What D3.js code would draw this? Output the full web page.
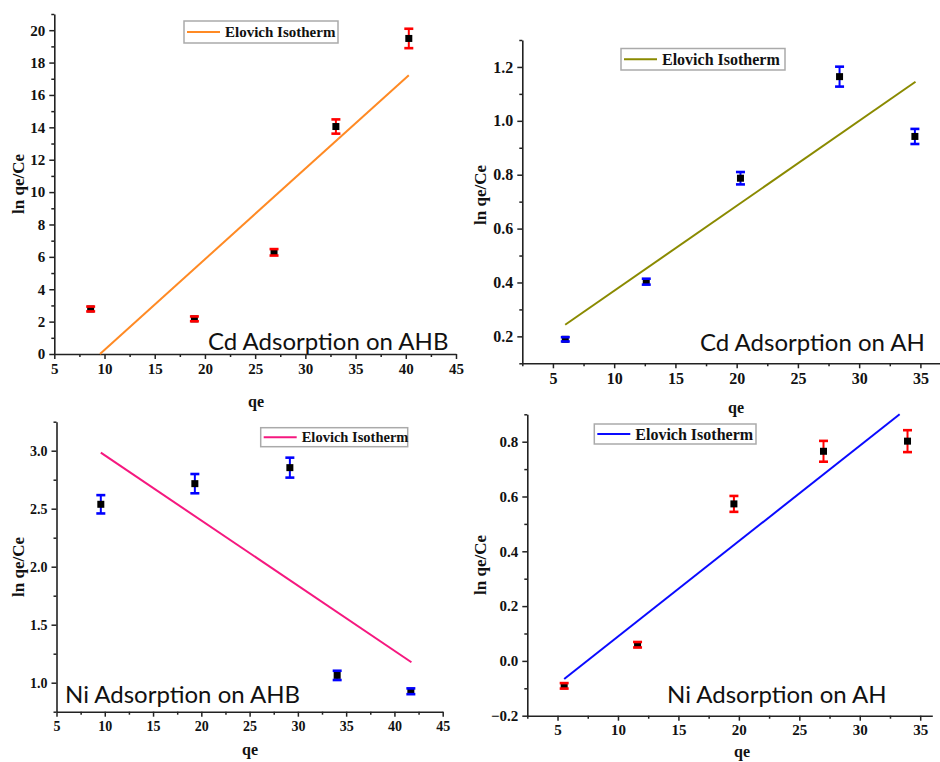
<!DOCTYPE html>
<html>
<head>
<meta charset="utf-8">
<script src="https://cdn.jsdelivr.net/npm/d3@7"></script>
<style>
  html, body { margin: 0; padding: 0; background: #fff; }
  svg { display: block; }
  .tick text { font-family: 'Liberation Serif', 'Times New Roman', serif; font-weight: bold; }
</style>
</head>
<body>
<svg id="chart" width="940" height="762"></svg>
<script>
// Cd on AHB
const cdAhbQe  = [8.62, 18.95, 26.88, 33.04, 40.3];
const cdAhbLn  = [2.78, 2.17, 6.28, 14.05, 19.49];
const cdAhbErr = [0.15, 0.15, 0.2, 0.44, 0.6];
const cdAhbFitQe = [9.55, 40.3];
const cdAhbFitLn = [0, 17.22];

// Cd on AH
const cdAhQe  = [6.01, 12.62, 20.31, 28.4, 34.55];
const cdAhLn  = [0.189, 0.403, 0.787, 1.164, 0.942];
const cdAhErr = [0.008, 0.011, 0.023, 0.037, 0.028];
const cdAhFitQe = [6.0, 34.6];
const cdAhFitLn = [0.243, 1.145];

// Ni on AHB
const niAhbQe  = [9.59, 19.33, 29.17, 34.07, 41.7];
const niAhbLn  = [2.538, 2.716, 2.854, 1.063, 0.926];
const niAhbErr = [0.079, 0.083, 0.086, 0.04, 0.025];
const niAhbFitQe = [9.59, 41.76];
const niAhbFitLn = [2.983, 1.176];

// Ni on AH
const niAhQe  = [5.55, 11.62, 19.59, 27.0, 33.95];
const niAhLn  = [-0.091, 0.059, 0.573, 0.765, 0.802];
const niAhErr = [0.01, 0.01, 0.029, 0.038, 0.04];
const niAhFitQe = [5.55, 33.3];
const niAhFitLn = [-0.066, 0.9];

const xTicks = [5, 10, 15, 20, 25, 30, 35, 40, 45];
const xTicksAH = [5, 10, 15, 20, 25, 30, 35];
const yTicksCdAhb = [0, 2, 4, 6, 8, 10, 12, 14, 16, 18, 20];
const yTicksCdAh = [0.2, 0.4, 0.6, 0.8, 1.0, 1.2];
const yTicksNiAhb = [1.0, 1.5, 2.0, 2.5, 3.0];
const yTicksNiAh = [-0.2, 0.0, 0.2, 0.4, 0.6, 0.8];

const legendLabel = "Elovich Isotherm";
const xTitle = "qe";
const yTitle = "ln qe/Ce";

const panels = [
  {
    title: "Cd Adsorption on AHB", qe: cdAhbQe, ln: cdAhbLn, err: cdAhbErr,
    fitQe: cdAhbFitQe, fitLn: cdAhbFitLn,
    xDomain: [5, 45], xRange: [54.3, 456], yDomain: [0, 21], yRange: [354, 14],
    xTicks: xTicks, xMinor: 2.5, yTicks: yTicksCdAhb, yMinor: 1, yFmt: d3.format("d"),
    lineColor: "#ff8a24", errColor: "#ff0000",
    legend: { x: 184, y: 21, w: 154, h: 22, fs: 15 },
    titlePos: [208, 350], xLabelPos: [256, 401], yLabelPos: [18, 184], tickFs: 15
  },
  {
    title: "Cd Adsorption on AH", qe: cdAhQe, ln: cdAhLn, err: cdAhErr,
    fitQe: cdAhFitQe, fitLn: cdAhFitLn,
    xDomain: [2.5, 37], xRange: [522.3, 944.9], yDomain: [0.1, 1.3], yRange: [363.3, 40],
    xTicks: xTicksAH, xMinor: 2.5, yTicks: yTicksCdAh, yMinor: 0.1, yFmt: d3.format(".1f"),
    lineColor: "#8a8a00", errColor: "#0000ff",
    legend: { x: 621, y: 48.5, w: 164, h: 21.5, fs: 16 },
    titlePos: [700, 351], xLabelPos: [736, 407], yLabelPos: [480, 195], tickFs: 16
  },
  {
    title: "Ni Adsorption on AHB", qe: niAhbQe, ln: niAhbLn, err: niAhbErr,
    fitQe: niAhbFitQe, fitLn: niAhbFitLn,
    xDomain: [5, 45], xRange: [56.5, 442.7], yDomain: [0.75, 3.25], yRange: [711.7, 421.7],
    xTicks: xTicks, xMinor: 2.5, yTicks: yTicksNiAhb, yMinor: 0.25, yFmt: d3.format(".1f"),
    lineColor: "#f5187f", errColor: "#0000ff",
    legend: { x: 260.7, y: 427.7, w: 147, h: 19, fs: 14.5 },
    titlePos: [65, 703], xLabelPos: [250, 749], yLabelPos: [18, 567], tickFs: 14
  },
  {
    title: "Ni Adsorption on AH", qe: niAhQe, ln: niAhLn, err: niAhErr,
    fitQe: niAhFitQe, fitLn: niAhFitLn,
    xDomain: [2.5, 36], xRange: [527.3, 932.3], yDomain: [-0.2, 0.9], yRange: [715.7, 414.3],
    xTicks: xTicksAH, xMinor: 2.5, yTicks: yTicksNiAh, yMinor: 0.1, yFmt: d3.format(".1f"),
    lineColor: "#0a0aff", errColor: "#ff0000",
    legend: { x: 594.3, y: 424, w: 161.7, h: 20, fs: 16 },
    titlePos: [667, 703], xLabelPos: [742, 751], yLabelPos: [480, 565], tickFs: 15
  }
];

const svg = d3.select("#chart");
const serif = "'Liberation Serif', 'Times New Roman', serif";

function minorValues(domain, step, majors) {
  const out = [];
  const start = Math.ceil(domain[0] / step - 1e-9) * step;
  for (let v = start; v <= domain[1] + 1e-9; v += step) {
    const r = Math.round(v * 1000) / 1000;
    if (!majors.some(m => Math.abs(m - r) < 1e-6)) out.push(r);
  }
  return out;
}

panels.forEach(p => {
  const g = svg.append("g");
  const x = d3.scaleLinear().domain(p.xDomain).range(p.xRange);
  const y = d3.scaleLinear().domain(p.yDomain).range(p.yRange);
  const x0 = p.xRange[0], y0 = p.yRange[0];

  // minor ticks
  const xm = minorValues(p.xDomain, p.xMinor, p.xTicks);
  const ym = minorValues(p.yDomain, p.yMinor, p.yTicks);
  g.append("g").attr("transform", `translate(0,${y0})`)
    .call(d3.axisBottom(x).tickValues(xm).tickSize(3).tickFormat("").tickSizeOuter(0))
    .call(s => s.select(".domain").remove())
    .selectAll("line").attr("stroke", "#222").attr("stroke-width", 1.5);
  g.append("g").attr("transform", `translate(${x0},0)`)
    .call(d3.axisLeft(y).tickValues(ym).tickSize(3).tickFormat("").tickSizeOuter(0))
    .call(s => s.select(".domain").remove())
    .selectAll("line").attr("stroke", "#222").attr("stroke-width", 1.5);

  // major axes
  const xa = g.append("g").attr("transform", `translate(0,${y0})`)
    .call(d3.axisBottom(x).tickValues(p.xTicks).tickSize(5).tickPadding(4).tickSizeOuter(0).tickFormat(d3.format("d")));
  const ya = g.append("g").attr("transform", `translate(${x0},0)`)
    .call(d3.axisLeft(y).tickValues(p.yTicks).tickSize(5).tickPadding(4).tickSizeOuter(0).tickFormat(p.yFmt));
  [xa, ya].forEach(a => {
    a.attr("font-family", serif).attr("font-weight", "bold").attr("font-size", p.tickFs);
    a.select(".domain").attr("stroke", "#222").attr("stroke-width", 1.6);
    a.selectAll(".tick line").attr("stroke", "#222").attr("stroke-width", 1.5);
    a.selectAll(".tick text").attr("fill", "#111")
      .attr("font-family", serif).attr("font-weight", "bold").attr("font-size", p.tickFs);
  });

  // fitted line
  const fit = p.fitQe.map((q, i) => [q, p.fitLn[i]]);
  g.append("path").datum(fit)
    .attr("d", d3.line().x(d => x(d[0])).y(d => y(d[1])))
    .attr("fill", "none").attr("stroke", p.lineColor).attr("stroke-width", 2);

  // data points with error bars
  const pts = p.qe.map((q, i) => ({ q, v: p.ln[i], e: p.err[i] }));
  const pg = g.append("g").selectAll("g").data(pts).join("g");
  pg.append("line")
    .attr("x1", d => x(d.q)).attr("x2", d => x(d.q))
    .attr("y1", d => y(d.v + d.e)).attr("y2", d => y(d.v - d.e))
    .attr("stroke", p.errColor).attr("stroke-width", 2);
  pg.append("rect")
    .attr("x", d => x(d.q) - 3.5).attr("y", d => y(d.v) - 3.5)
    .attr("width", 7).attr("height", 7).attr("fill", "#000");
  [1, -1].forEach(sgn => {
    pg.append("line")
      .attr("x1", d => x(d.q) - 4.5).attr("x2", d => x(d.q) + 4.5)
      .attr("y1", d => y(d.v + sgn * d.e)).attr("y2", d => y(d.v + sgn * d.e))
      .attr("stroke", p.errColor).attr("stroke-width", 2.6);
  });

  // legend
  const L = p.legend;
  const lg = g.append("g").attr("transform", `translate(${L.x},${L.y})`);
  lg.append("rect").attr("width", L.w).attr("height", L.h)
    .attr("fill", "#fff").attr("stroke", "#aaa").attr("stroke-width", 1.5);
  lg.append("line").attr("x1", 3).attr("x2", 36).attr("y1", L.h / 2).attr("y2", L.h / 2)
    .attr("stroke", p.lineColor).attr("stroke-width", 2);
  lg.append("text").attr("x", 41).attr("y", L.h / 2).attr("dy", "0.35em")
    .text(legendLabel)
    .style("font-family", serif).style("font-weight", "bold").style("font-size", L.fs + "px").attr("fill", "#111");

  // panel title
  g.append("text").attr("x", p.titlePos[0]).attr("y", p.titlePos[1])
    .text(p.title)
    .style("font-family", "Lato, 'Open Sans', sans-serif").style("font-size", "24px").attr("fill", "#111");

  // axis titles
  g.append("text").attr("x", p.xLabelPos[0]).attr("y", p.xLabelPos[1])
    .attr("text-anchor", "middle").attr("dy", "0.35em").text(xTitle)
    .style("font-family", serif).style("font-weight", "bold").style("font-size", "16px").attr("fill", "#111");
  g.append("text")
    .attr("transform", `translate(${p.yLabelPos[0]},${p.yLabelPos[1]}) rotate(-90)`)
    .attr("text-anchor", "middle").attr("dy", "0.35em").text(yTitle)
    .style("font-family", serif).style("font-weight", "bold").style("font-size", "17px").attr("fill", "#111");
});
</script>
</body>
</html>
